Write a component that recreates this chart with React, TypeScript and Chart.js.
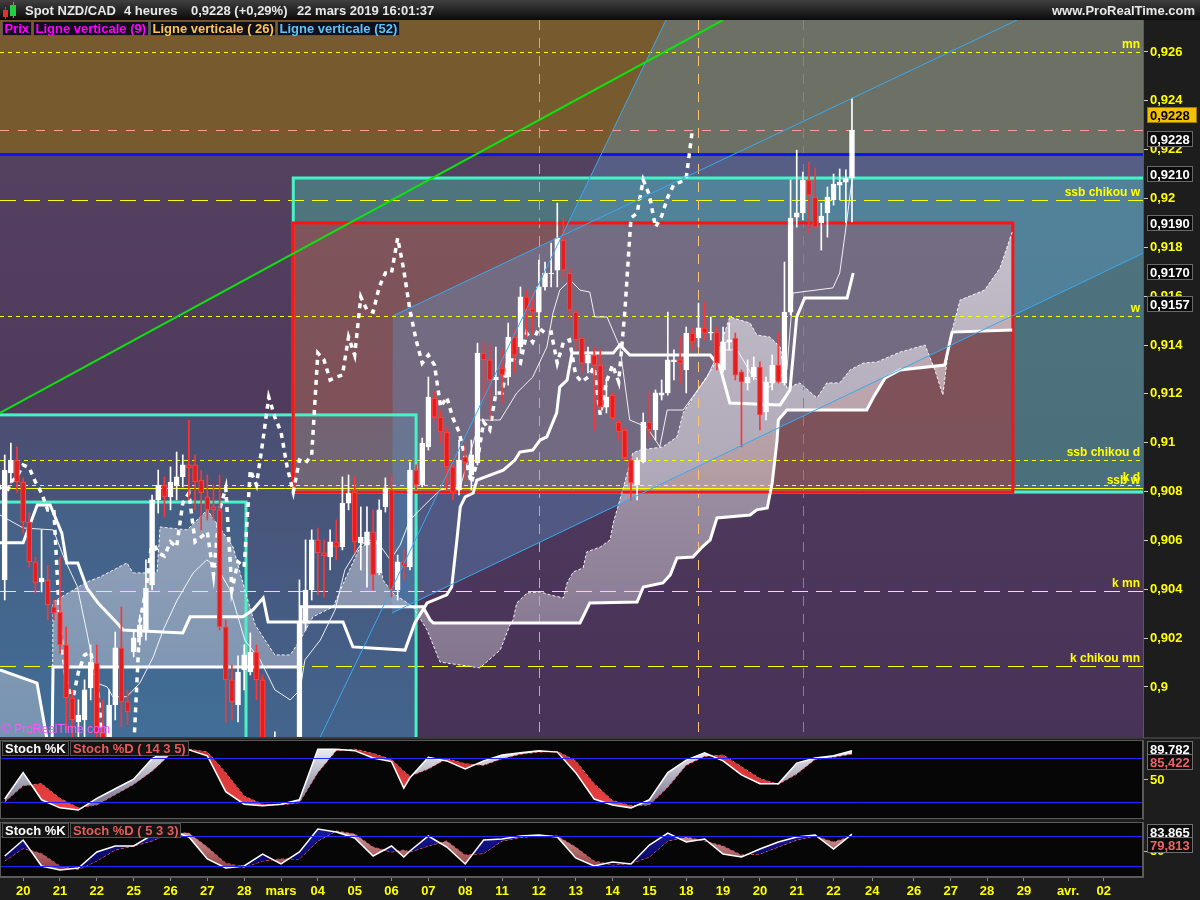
import React, { useEffect, useRef } from 'react';
import { Chart, registerables } from 'chart.js';

Chart.register(...registerables);

// ---------------- DATA ----------------
const candleOpen = [
  0.90438, 0.90876, 0.90929, 0.90839, 0.90675, 0.90512, 0.90430, 0.90438, 0.90328, 0.90307,
  0.90172, 0.89955, 0.89857, 0.89865, 0.89996, 0.90098, 0.89812, 0.89783, 0.89926, 0.90160,
  0.89939, 0.90143, 0.90205, 0.90233, 0.90418, 0.90766, 0.90827, 0.90778, 0.90823, 0.90860,
  0.90909, 0.90909, 0.90847, 0.90778, 0.90737, 0.90725, 0.90246, 0.90029, 0.89926, 0.90070,
  0.90061, 0.90143, 0.90029, 0.89763, 0.89681, 0.89783, 0.89722, 0.89660, 0.89742, 0.90262,
  0.90397, 0.90602, 0.90549, 0.90532, 0.90594, 0.90573, 0.90753, 0.90798, 0.90590, 0.90581,
  0.90635, 0.90467, 0.90737, 0.90807, 0.90397, 0.90512, 0.90491, 0.90888, 0.90827, 0.90983,
  0.91183, 0.91105, 0.91044, 0.90901, 0.90807, 0.90942, 0.90868, 0.90917, 0.91367, 0.91339,
  0.91257, 0.91306, 0.91269, 0.91433, 0.91392, 0.91597, 0.91548, 0.91535, 0.91638, 0.91691,
  0.91707, 0.91830, 0.91695, 0.91535, 0.91429, 0.91326, 0.91359, 0.91318, 0.91146, 0.91195,
  0.91085, 0.91052, 0.90929, 0.90827, 0.90921, 0.91085, 0.91052, 0.91195, 0.91204, 0.91331,
  0.91339, 0.91298, 0.91449, 0.91429, 0.91470, 0.91449, 0.91453, 0.91298, 0.91412, 0.91429,
  0.91290, 0.91245, 0.91269, 0.91310, 0.91126, 0.91245, 0.91318, 0.91245, 0.91535, 0.91924,
  0.91941, 0.92076, 0.92006, 0.91900, 0.91941, 0.91994, 0.92055, 0.92067, 0.92084,
];
const candleHigh = [
  0.90950, 0.90999, 0.90983, 0.90856, 0.90712, 0.90532, 0.90643, 0.90499, 0.90356, 0.90532,
  0.90246, 0.89988, 0.89947, 0.90029, 0.90172, 0.90172, 0.89947, 0.89988, 0.90225, 0.90328,
  0.89988, 0.90233, 0.90295, 0.90520, 0.90786, 0.90888, 0.90860, 0.90901, 0.90962, 0.90950,
  0.91093, 0.90950, 0.90888, 0.90868, 0.90827, 0.90868, 0.90274, 0.90090, 0.90127, 0.90172,
  0.90221, 0.90172, 0.90049, 0.89783, 0.89816, 0.89791, 0.89742, 0.89763, 0.90438, 0.90602,
  0.90643, 0.90651, 0.90602, 0.90643, 0.90684, 0.90860, 0.90868, 0.90860, 0.90737, 0.90737,
  0.90725, 0.90766, 0.90856, 0.90868, 0.90540, 0.90561, 0.90921, 0.90909, 0.91019, 0.91269,
  0.91208, 0.91134, 0.91064, 0.90929, 0.91011, 0.90991, 0.91011, 0.91408, 0.91412, 0.91400,
  0.91392, 0.91380, 0.91490, 0.91462, 0.91638, 0.91625, 0.91613, 0.91748, 0.91740, 0.91818,
  0.91981, 0.91920, 0.91715, 0.91543, 0.91433, 0.91392, 0.91392, 0.91380, 0.91257, 0.91204,
  0.91093, 0.91060, 0.90942, 0.90938, 0.91122, 0.91208, 0.91216, 0.91257, 0.91535, 0.91380,
  0.91433, 0.91474, 0.91470, 0.91572, 0.91576, 0.91515, 0.91474, 0.91474, 0.91490, 0.91449,
  0.91298, 0.91339, 0.91351, 0.91331, 0.91269, 0.91359, 0.91449, 0.91740, 0.92076, 0.92198,
  0.92108, 0.92149, 0.92125, 0.91981, 0.92047, 0.92100, 0.92121, 0.92117, 0.92411,
];
const candleLow = [
  0.90356, 0.90835, 0.90798, 0.90630, 0.90491, 0.90385, 0.90389, 0.90274, 0.90274, 0.90139,
  0.89824, 0.89795, 0.89795, 0.89795, 0.89947, 0.89763, 0.89742, 0.89742, 0.89865, 0.89836,
  0.89844, 0.90123, 0.90172, 0.90192, 0.90397, 0.90712, 0.90696, 0.90725, 0.90766, 0.90819,
  0.90766, 0.90725, 0.90643, 0.90684, 0.90684, 0.90233, 0.89853, 0.89865, 0.89857, 0.89988,
  0.90049, 0.89947, 0.89701, 0.89640, 0.89660, 0.89681, 0.89619, 0.89640, 0.89722, 0.90233,
  0.90356, 0.90377, 0.90368, 0.90479, 0.90520, 0.90561, 0.90725, 0.90549, 0.90479, 0.90409,
  0.90397, 0.90459, 0.90716, 0.90368, 0.90356, 0.90438, 0.90479, 0.90807, 0.90819, 0.90970,
  0.91093, 0.90999, 0.90807, 0.90766, 0.90786, 0.90847, 0.90807, 0.90909, 0.91175, 0.91093,
  0.91195, 0.91163, 0.91236, 0.91286, 0.91367, 0.91433, 0.91449, 0.91474, 0.91625, 0.91638,
  0.91638, 0.91674, 0.91502, 0.91380, 0.91286, 0.91286, 0.91052, 0.91134, 0.91122, 0.91093,
  0.91011, 0.90929, 0.90766, 0.90766, 0.90917, 0.91011, 0.91011, 0.91175, 0.91195, 0.91257,
  0.91245, 0.91204, 0.91380, 0.91392, 0.91421, 0.91421, 0.91298, 0.91290, 0.91380, 0.91257,
  0.90983, 0.91216, 0.91257, 0.91052, 0.91093, 0.91216, 0.91245, 0.91236, 0.91523, 0.91883,
  0.91912, 0.91859, 0.91879, 0.91789, 0.91842, 0.91973, 0.91994, 0.91900, 0.91904,
];
const candleClose = [
  0.90888, 0.90929, 0.90839, 0.90675, 0.90512, 0.90426, 0.90446, 0.90336, 0.90303, 0.90172,
  0.89955, 0.89865, 0.89885, 0.89988, 0.90102, 0.89812, 0.89783, 0.89926, 0.90160, 0.89939,
  0.89898, 0.90201, 0.90254, 0.90405, 0.90766, 0.90827, 0.90778, 0.90839, 0.90860, 0.90909,
  0.90897, 0.90839, 0.90794, 0.90725, 0.90725, 0.90246, 0.90029, 0.89939, 0.90061, 0.90131,
  0.90143, 0.90029, 0.89763, 0.89681, 0.89783, 0.89722, 0.89660, 0.89742, 0.90266, 0.90397,
  0.90602, 0.90549, 0.90536, 0.90594, 0.90573, 0.90753, 0.90794, 0.90594, 0.90614, 0.90635,
  0.90459, 0.90725, 0.90815, 0.90397, 0.90512, 0.90491, 0.90888, 0.90827, 0.90999, 0.91187,
  0.91105, 0.91044, 0.90901, 0.90798, 0.90929, 0.90917, 0.90950, 0.91367, 0.91339, 0.91257,
  0.91269, 0.91277, 0.91433, 0.91359, 0.91597, 0.91543, 0.91535, 0.91638, 0.91695, 0.91695,
  0.91838, 0.91707, 0.91543, 0.91421, 0.91326, 0.91359, 0.91318, 0.91146, 0.91187, 0.91101,
  0.91044, 0.90938, 0.90835, 0.90929, 0.91085, 0.91052, 0.91204, 0.91204, 0.91339, 0.91339,
  0.91326, 0.91449, 0.91412, 0.91470, 0.91449, 0.91453, 0.91326, 0.91412, 0.91421, 0.91277,
  0.91249, 0.91269, 0.91310, 0.91114, 0.91249, 0.91318, 0.91249, 0.91535, 0.91920, 0.91941,
  0.92076, 0.92014, 0.91883, 0.91928, 0.92006, 0.92059, 0.92067, 0.92084, 0.92280,
];

// Ichimoku lines: [bar index, price]
const tenkanPts = [
  [-0.77, 0.90704], [3.0, 0.90651], [7.9, 0.90643], [9.8, 0.9052], [11.8, 0.90413], [13.4, 0.90221],
  [15.0, 0.90016], [16.7, 0.9], [17.6, 0.8996], [19.9, 0.8996], [22.0, 0.90016], [24.2, 0.90123],
  [25.8, 0.90233], [28.1, 0.90356], [30.7, 0.90467], [32.9, 0.9052], [34.6, 0.90491], [36.7, 0.90397],
  [39.1, 0.90192], [41.6, 0.90111], [44.0, 0.89988], [46.5, 0.89947], [48.1, 0.89988], [48.9, 0.90111],
  [51.4, 0.90192], [53.8, 0.90315], [55.4, 0.90479], [57.9, 0.90581], [59.5, 0.90602], [61.1, 0.90581],
  [62.8, 0.9052], [64.4, 0.90581], [66.0, 0.90684], [67.6, 0.90725], [70.9, 0.90807], [74.2, 0.90819],
  [77.4, 0.91093], [80.7, 0.91093], [83.4, 0.91204], [86.0, 0.91269], [88.3, 0.91392], [89.3, 0.91531],
  [90.4, 0.91625], [92.1, 0.91666], [93.7, 0.91625], [95.3, 0.91617], [96.1, 0.91515], [98.1, 0.91515],
  [100.2, 0.91392], [101.8, 0.91093], [104.6, 0.91064], [106.7, 0.90983], [107.9, 0.91134], [110.5, 0.91134],
  [114.4, 0.91269], [116.5, 0.9138], [119.3, 0.9138], [121.9, 0.91269], [124.6, 0.91228], [127.4, 0.91298],
  [128.4, 0.91613], [134.9, 0.91634], [136.0, 0.91695], [136.9, 0.91859], [138.0, 0.92076],
];
const kijunPts = [
  [-0.77, 0.9059], [3.0, 0.9059], [5.3, 0.90745], [7.4, 0.90745], [9.3, 0.9063], [10.1, 0.90508],
  [11.9, 0.90508], [13.4, 0.90405], [15.2, 0.90344], [18.3, 0.90262], [19.3, 0.90233], [29.0, 0.90221],
  [30.2, 0.90287], [38.8, 0.90287], [40.4, 0.90315], [42.1, 0.90364], [42.9, 0.90266], [55.1, 0.90266],
  [56.7, 0.90164], [65.2, 0.90151], [66.8, 0.90262], [68.8, 0.90344], [72.0, 0.90377], [72.8, 0.90409],
  [73.7, 0.90614], [74.2, 0.90737], [75.0, 0.90778], [76.3, 0.90794], [76.9, 0.90847], [81.2, 0.90888],
  [83.1, 0.90929], [83.9, 0.90962], [86.0, 0.9097], [87.2, 0.91011], [88.3, 0.91024], [89.9, 0.91122],
  [90.4, 0.91228], [91.6, 0.91257], [92.4, 0.91367], [99.1, 0.91367], [100.2, 0.914], [101.8, 0.91359],
  [114.9, 0.91359], [116.5, 0.9131], [118.1, 0.91163], [126.3, 0.91155], [127.9, 0.91216], [129.0, 0.91515],
  [130.3, 0.91593], [137.2, 0.91593], [138.2, 0.91695],
];
const ssaPts = [
  [-0.77, 0.89701], [7.7, 0.89701], [7.87, 0.90348], [13.4, 0.9043], [15.5, 0.9045], [19.9, 0.90508],
  [20.9, 0.90467], [24.8, 0.90467], [25.3, 0.90655], [29.7, 0.90643], [33.0, 0.90725], [37.2, 0.90573],
  [39.1, 0.90397], [40.8, 0.90254], [42.4, 0.90192], [44.0, 0.90131], [46.5, 0.90131], [48.1, 0.90192],
  [50.2, 0.90287], [53.5, 0.90328], [55.4, 0.90438], [57.9, 0.90573], [60.6, 0.90602], [61.6, 0.90438],
  [63.2, 0.90385], [66.5, 0.90328], [68.8, 0.90233], [70.9, 0.90102], [77.4, 0.90078], [80.7, 0.90151],
  [82.3, 0.90254], [82.8, 0.90274], [83.4, 0.90344], [85.1, 0.90385], [87.2, 0.90389], [88.8, 0.90377],
  [91.0, 0.90364], [91.6, 0.90426], [92.6, 0.90471], [94.2, 0.90487], [94.8, 0.90553], [97.0, 0.90573],
  [98.6, 0.90602], [99.1, 0.90671], [100.2, 0.90766], [101.4, 0.90876], [102.3, 0.90958], [103.5, 0.9097],
  [107.2, 0.90983], [109.5, 0.91024], [110.5, 0.91122], [113.2, 0.91228], [115.4, 0.9131], [118.1, 0.91515],
  [121.4, 0.9149], [122.5, 0.91441], [124.6, 0.91433], [126.3, 0.91392], [127.4, 0.91224], [129.5, 0.91245],
  [132.3, 0.91183], [133.9, 0.91245], [136.0, 0.91245], [137.7, 0.91298], [139.8, 0.91326], [142.1, 0.91331],
  [145.8, 0.91371], [149.9, 0.914], [151.5, 0.91298], [152.8, 0.91195], [153.9, 0.91421], [155.6, 0.91584],
  [159.6, 0.91625], [162.1, 0.91715], [164.1, 0.91863],
];
const ssbPts = [
  [-0.77, 0.9007], [5.26, 0.90016], [7.05, 0.89763], [7.7, 0.89742], [7.87, 0.90082], [48.1, 0.90082],
  [48.2, 0.90328], [68.1, 0.90328], [69.3, 0.90274], [69.8, 0.90262], [93.7, 0.90262], [95.3, 0.90344],
  [103.0, 0.90348], [104.0, 0.90409], [107.2, 0.90426], [108.4, 0.90459], [109.5, 0.90528], [112.1, 0.90532],
  [113.6, 0.90573], [114.9, 0.90602], [116.0, 0.90692], [121.4, 0.90704], [122.5, 0.90725], [124.2, 0.90733],
  [125.0, 0.90835], [125.8, 0.91011], [126.0, 0.91093], [127.4, 0.91134], [140.4, 0.91134], [141.7, 0.91195],
  [143.4, 0.91265], [145.8, 0.91298], [153.1, 0.91318], [154.3, 0.91453], [164.1, 0.91462],
];
const chikouShift = 26;

// drawn objects: [bar, price] end points
const greenLine = [[-0.77, 0.91122], [117, 0.92731]];
const steepLine = [[51.4, 0.89795], [107.7, 0.92731]];
const upperChannel = [[63.2, 0.91519], [164.9, 0.92731]];
const lowerChannel = [[63.1, 0.90303], [185.4, 0.91776]];

const blueLevel = 0.9218;
const levelPrices = [0.926, 0.91994, 0.91519, 0.90929, 0.90827, 0.90815, 0.90393, 0.90086];
const levelLabels = ['mn', 'ssb chikou w', 'w', 'ssb chikou d', 'k d', 'ssb w', 'k mn', 'k chikou mn'];
const verticalLineBars = [9, 26, 52];

// zones: [from bar, to bar, top price, bottom price]
const zoneCyanW = [47, 190, 0.92084, 0.90798];
const zoneRed = [47, 164.2, 0.919, 0.90798];
const zoneCyanD = [-2, 67, 0.91114, 0.895];
const zoneCyanH = [-2, 39.3, 0.90757, 0.895];

const priceTicks = [0.9, 0.902, 0.904, 0.906, 0.908, 0.91, 0.912, 0.914, 0.916, 0.918, 0.92, 0.922, 0.924, 0.926];
const axisMarks = [0.9228, 0.921, 0.919, 0.917, 0.9157];

const dayTickPos = [3, 9, 15, 21, 27, 33, 39, 45, 51, 57, 63, 69, 75, 81, 87, 93, 99, 105, 111, 117, 123, 129, 135, 141.3, 148.1, 154.1, 160, 166, 173.2, 179];
const dayTickLabels = ['20', '21', '22', '25', '26', '27', '28', 'mars', '04', '05', '06', '07', '08', '11', '12', '13', '14', '15', '18', '19', '20', '21', '22', '24', '26', '27', '28', '29', 'avr.', '02'];

const stochX = [0, 3, 6, 9, 12, 15, 18, 21, 24, 27, 30, 33, 36, 39, 42, 45, 48, 51, 54, 57, 60, 63, 65, 66, 69, 72, 75, 78, 81, 84, 87, 90, 93, 96, 99, 102, 105, 108, 111, 114, 117, 120, 123, 126, 129, 132, 135, 138];
const stoch1K = [24, 60, 23, 12, 9, 25, 38, 51, 79, 92, 91, 83, 34, 17, 15, 17, 23, 92, 92, 90, 80, 75, 39, 53, 81, 76, 65, 76, 84, 87, 90, 88, 60, 24, 16, 12, 23, 60, 77, 87, 76, 57, 45, 45, 73, 80, 83, 89.782];
const stoch1D = [20, 42, 45, 25, 12, 16, 30, 44, 62, 85, 92, 88, 60, 28, 17, 16, 19, 60, 90, 92, 86, 78, 62, 55, 65, 79, 72, 70, 79, 85, 88, 89, 76, 45, 22, 15, 16, 40, 70, 82, 84, 68, 52, 44, 58, 78, 81, 85.422];
const stoch2K = [40, 72, 20, 12, 16, 48, 60, 60, 82, 90, 78, 34, 16, 20, 44, 24, 48, 94, 88, 76, 40, 60, 38, 50, 80, 58, 24, 72, 74, 80, 82, 78, 36, 20, 28, 24, 62, 86, 68, 74, 44, 38, 54, 68, 78, 82, 54, 83.865];
const stoch2D = [30, 55, 45, 20, 13, 30, 52, 60, 70, 86, 86, 58, 26, 17, 30, 34, 34, 70, 90, 84, 58, 48, 52, 48, 60, 70, 42, 45, 70, 77, 80, 80, 58, 30, 22, 25, 38, 70, 78, 70, 60, 42, 44, 58, 72, 80, 68, 79.813];
const stochLevels = [80, 20];

// ---------------- LAYOUT / STYLE ----------------
const FONT = '"Liberation Sans", Arial, sans-serif';
const W = 1200;
const MAIN_H = 739;
const P1_H = 82;
const P2_H = 79;
const AXIS_W = 57;
const X_MIN = -0.77;
const X_MAX = 185.4;
const Y_MIN = 0.89795;
const Y_MAX = 0.92731;

const levelDash: Record<string, number[]> = {
  'mn': [4, 4], 'ssb chikou w': [16, 8], 'w': [4, 4], 'ssb chikou d': [4, 4],
  'k d': [4, 4], 'ssb w': [], 'k mn': [16, 8], 'k chikou mn': [16, 8],
};

const fmtTick = (v: number) => String(+v.toFixed(3)).replace('.', ',');
const fmt4 = (v: number) => v.toFixed(4).replace('.', ',');
const fmt3 = (v: number) => v.toFixed(3).replace('.', ',');

const fitY = (s: any) => { s.width = AXIS_W; s.paddingTop = 0; s.paddingBottom = 0; };
const fitX = (s: any) => { s.height = 23; s.paddingLeft = 0; s.paddingRight = 0; };

function valueBox(ctx: any, text: string, cy: number, bg: string, fg: string, border: string, w = 46) {
  const x0 = 1147;
  ctx.fillStyle = bg;
  ctx.fillRect(x0, Math.round(cy - 8), w, 16);
  ctx.strokeStyle = border;
  ctx.lineWidth = 1;
  ctx.setLineDash([]);
  ctx.strokeRect(x0 + 0.5, Math.round(cy - 8) + 0.5, w - 1, 15);
  ctx.fillStyle = fg;
  ctx.font = `bold 13px ${FONT}`;
  ctx.textAlign = 'left';
  ctx.textBaseline = 'middle';
  ctx.fillText(text, x0 + 3, Math.round(cy) + 1);
}

function intersect(p1: number[], p2: number[], p3: number[], p4: number[]) {
  const d = (p1[0] - p2[0]) * (p3[1] - p4[1]) - (p1[1] - p2[1]) * (p3[0] - p4[0]);
  const t = ((p1[0] - p3[0]) * (p3[1] - p4[1]) - (p1[1] - p3[1]) * (p3[0] - p4[0])) / d;
  return [p1[0] + t * (p2[0] - p1[0]), p1[1] + t * (p2[1] - p1[1])];
}

const mainPlugin = {
  id: 'mainDecor',
  beforeDraw(chart: any) {
    const { ctx, chartArea: ca } = chart;
    const xs = chart.scales.x;
    const ys = chart.scales.y;
    const X = (b: number) => xs.getPixelForValue(b);
    const Y = (p: number) => ys.getPixelForValue(p);
    const P = (pt: number[]) => [X(pt[0]), Y(pt[1])];
    ctx.save();
    ctx.fillStyle = '#1d1d1d';
    ctx.fillRect(0, 0, chart.width, chart.height);
    ctx.fillStyle = '#3a3a3a';
    ctx.fillRect(0, ca.bottom, chart.width, chart.height - ca.bottom);

    // header bar
    const hg = ctx.createLinearGradient(0, 0, 0, 20);
    hg.addColorStop(0, '#404040');
    hg.addColorStop(1, '#0a0a0a');
    ctx.fillStyle = hg;
    ctx.fillRect(0, 0, chart.width, 20);
    ctx.fillStyle = '#e03030';
    ctx.fillRect(5, 7, 1, 12);
    ctx.fillRect(3, 10, 5, 7);
    ctx.fillStyle = '#20d040';
    ctx.fillRect(13, 2, 1, 16);
    ctx.fillRect(10, 5, 6, 11);
    ctx.font = `bold 13px ${FONT}`;
    ctx.fillStyle = '#e8e8e8';
    ctx.textBaseline = 'middle';
    ctx.textAlign = 'left';
    ctx.fillText('Spot NZD/CAD', 25, 11);
    ctx.fillText('4 heures', 124, 11);
    ctx.fillText('0,9228 (+0,29%)', 191, 11);
    ctx.fillText('22 mars 2019 16:01:37', 297, 11);
    ctx.textAlign = 'right';
    ctx.fillText('www.ProRealTime.com', 1195, 11);

    // plot area
    ctx.save();
    ctx.beginPath();
    ctx.rect(ca.left, ca.top, ca.right - ca.left, ca.bottom - ca.top);
    ctx.clip();
    const yb = Y(blueLevel);
    ctx.fillStyle = '#775a2e';
    ctx.fillRect(ca.left, ca.top, ca.right - ca.left, yb - ca.top);
    const pg = ctx.createLinearGradient(0, yb, 0, ca.bottom);
    pg.addColorStop(0, '#54405f');
    pg.addColorStop(1, '#483358');
    ctx.fillStyle = pg;
    ctx.fillRect(ca.left, yb, ca.right - ca.left, ca.bottom - yb);

    const rect = (z: number[]) => [X(z[0]), Y(z[2]), X(z[1]) - X(z[0]), Y(z[3]) - Y(z[2])];
    let r = rect(zoneCyanW);
    ctx.fillStyle = 'rgba(70,225,190,0.33)';
    ctx.fillRect(r[0], r[1], r[2], r[3]);
    r = rect(zoneRed);
    ctx.fillStyle = 'rgba(230,20,20,0.33)';
    ctx.fillRect(r[0], r[1], r[2], r[3]);
    r = rect(zoneCyanD);
    const dg = ctx.createLinearGradient(0, r[1], 0, ca.bottom);
    dg.addColorStop(0, 'rgba(60,170,215,0.18)');
    dg.addColorStop(1, 'rgba(60,170,215,0.42)');
    ctx.fillStyle = dg;
    ctx.fillRect(r[0], r[1], r[2], r[3]);
    r = rect(zoneCyanH);
    ctx.fillStyle = 'rgba(60,170,215,0.14)';
    ctx.fillRect(r[0], r[1], r[2], r[3]);

    // channel tint
    const ls = P(lowerChannel[0]);
    const le = P(lowerChannel[1]);
    const us = P(upperChannel[0]);
    const ue = P(upperChannel[1]);
    const ss = P(steepLine[0]);
    const se = P(steepLine[1]);
    const ip = intersect(us, ue, ss, se);
    ctx.beginPath();
    ctx.moveTo(ls[0], ls[1]);
    ctx.lineTo(us[0], us[1]);
    ctx.lineTo(ip[0], ip[1]);
    ctx.lineTo(se[0], se[1]);
    ctx.lineTo(ca.right + 5, ca.top - 5);
    ctx.lineTo(ca.right + 5, le[1]);
    ctx.lineTo(le[0], le[1]);
    ctx.closePath();
    ctx.fillStyle = 'rgba(90,160,215,0.32)';
    ctx.fill();

    // cloud
    ctx.beginPath();
    ssaPts.forEach((pt, i) => {
      const q = P(pt);
      if (i === 0) ctx.moveTo(q[0], q[1]);
      else ctx.lineTo(q[0], q[1]);
    });
    for (let i = ssbPts.length - 1; i >= 0; i--) {
      const q = P(ssbPts[i]);
      ctx.lineTo(q[0], q[1]);
    }
    ctx.closePath();
    const cg = ctx.createLinearGradient(0, Y(0.919), 0, ca.bottom);
    cg.addColorStop(0, 'rgba(240,236,242,0.66)');
    cg.addColorStop(1, 'rgba(240,236,242,0.30)');
    ctx.fillStyle = cg;
    ctx.fill();

    // horizontal levels
    ctx.lineWidth = 1;
    ctx.strokeStyle = '#ffff00';
    levelPrices.forEach((p, i) => {
      const py = Math.round(Y(p)) + 0.5;
      ctx.setLineDash(levelDash[levelLabels[i]] || []);
      ctx.beginPath();
      ctx.moveTo(ca.left, py);
      ctx.lineTo(ca.right, py);
      ctx.stroke();
    });
    // current price line
    const lastClose = candleClose[candleClose.length - 1];
    ctx.strokeStyle = '#ff9c9c';
    ctx.setLineDash([9, 9]);
    ctx.beginPath();
    ctx.moveTo(ca.left, Math.round(Y(lastClose)) + 0.5);
    ctx.lineTo(ca.right, Math.round(Y(lastClose)) + 0.5);
    ctx.stroke();

    // vertical lines
    const vColors = ['#ff30ff', '#ffc470', '#66c8ff'];
    verticalLineBars.forEach((n, i) => {
      const px = Math.round(X(candleClose.length - n)) + 0.5;
      ctx.strokeStyle = vColors[i];
      ctx.setLineDash([10, 8]);
      ctx.beginPath();
      ctx.moveTo(px, ca.top);
      ctx.lineTo(px, ca.bottom);
      ctx.stroke();
    });
    ctx.setLineDash([]);

    // zone outlines
    ctx.lineWidth = 3;
    const outline = (z: number[], col: string) => {
      const q = rect(z);
      ctx.strokeStyle = col;
      ctx.strokeRect(q[0], q[1], q[2], q[3]);
    };
    outline(zoneCyanH, '#46f2c6');
    outline(zoneCyanD, '#46f2c6');
    outline(zoneCyanW, '#46f2c6');
    outline(zoneRed, '#ff1212');

    // blue horizontal line
    ctx.strokeStyle = '#0a14ff';
    ctx.lineWidth = 3;
    ctx.beginPath();
    ctx.moveTo(ca.left, yb);
    ctx.lineTo(ca.right, yb);
    ctx.stroke();
    ctx.restore();
    ctx.restore();
  },
  afterDraw(chart: any) {
    const { ctx, chartArea: ca } = chart;
    const ys = chart.scales.y;
    ctx.save();
    // level labels
    ctx.font = `bold 12px ${FONT}`;
    ctx.fillStyle = '#ffff00';
    ctx.textAlign = 'right';
    ctx.textBaseline = 'bottom';
    levelPrices.forEach((p, i) => {
      ctx.fillText(levelLabels[i], ca.right - 3, Math.round(ys.getPixelForValue(p)) - 1);
    });
    // legend row
    const items = [
      ['Prix', '#ff00ff'],
      ['Ligne verticale (9)', '#ff00ff'],
      ['Ligne verticale ( 26)', '#ffc458'],
      ['Ligne verticale (52)', '#5cc4ff'],
    ];
    ctx.font = `bold 13px ${FONT}`;
    ctx.textAlign = 'left';
    ctx.textBaseline = 'middle';
    let lx = 2;
    items.forEach(([t, c]) => {
      const w = Math.round(ctx.measureText(t).width) + 5;
      ctx.fillStyle = '#10101a';
      ctx.fillRect(lx, 21, w, 15);
      ctx.strokeStyle = '#555555';
      ctx.lineWidth = 1;
      ctx.strokeRect(lx + 0.5, 21.5, w - 1, 14);
      ctx.fillStyle = c;
      ctx.fillText(t, lx + 2.5, 29);
      lx += w + 1;
    });
    // watermark
    ctx.font = `12px ${FONT}`;
    ctx.fillStyle = '#ff55ff';
    ctx.textBaseline = 'bottom';
    ctx.fillText('\u00a9 ProRealTime.com', 2, ca.bottom - 1);
    // axis value boxes
    const lastClose = candleClose[candleClose.length - 1];
    axisMarks.forEach((v, i) => {
      const cy = ys.getPixelForValue(v) + (i === 0 ? 9 : 0);
      valueBox(ctx, fmt4(v), cy, '#0b0b0b', '#ffffff', '#6a6a6a');
    });
    valueBox(ctx, fmt4(lastClose), ys.getPixelForValue(lastClose) - 15, '#f2c200', '#000000', '#a07800', 50);
    ctx.restore();
  },
};

function makeStochPlugin(params: string, lastK: number, lastD: number, kOff: number, dOff: number) {
  return {
    id: 'stoch' + params.replace(/\W/g, ''),
    beforeDraw(chart: any) {
      const { ctx, chartArea: ca } = chart;
      ctx.save();
      ctx.fillStyle = '#1d1d1d';
      ctx.fillRect(0, 0, chart.width, chart.height);
      ctx.fillStyle = '#060606';
      ctx.fillRect(ca.left, ca.top, ca.right - ca.left, ca.bottom - ca.top);
      ctx.restore();
    },
    afterDatasetsDraw(chart: any) {
      const { ctx, chartArea: ca } = chart;
      const ys = chart.scales.y;
      ctx.save();
      ctx.strokeStyle = '#2626ff';
      ctx.lineWidth = 1;
      stochLevels.forEach((v) => {
        const py = Math.round(ys.getPixelForValue(v)) + 0.5;
        ctx.beginPath();
        ctx.moveTo(ca.left, py);
        ctx.lineTo(ca.right, py);
        ctx.stroke();
      });
      ctx.strokeStyle = '#5a5a5a';
      ctx.strokeRect(ca.left + 0.5, ca.top + 0.5, ca.right - ca.left - 1, ca.bottom - ca.top - 1);
      // legend tags
      ctx.font = `bold 13px ${FONT}`;
      ctx.textAlign = 'left';
      ctx.textBaseline = 'middle';
      const tags = [['Stoch %K', '#ffffff'], ['Stoch %D ' + params, '#e85a5a']];
      let lx = 2;
      tags.forEach(([t, c]) => {
        const w = Math.round(ctx.measureText(t).width) + 6;
        ctx.fillStyle = '#141414';
        ctx.fillRect(lx, ca.top + 1, w, 15);
        ctx.strokeStyle = '#505050';
        ctx.strokeRect(lx + 0.5, ca.top + 1.5, w - 1, 14);
        ctx.fillStyle = c;
        ctx.fillText(t, lx + 3, ca.top + 9);
        lx += w + 1;
      });
      const ky = ys.getPixelForValue(lastK);
      valueBox(ctx, fmt3(lastK), ky + kOff, '#0c0c0c', '#ffffff', '#707070');
      valueBox(ctx, fmt3(lastD), ky + dOff, '#0c0c0c', '#ee6464', '#707070');
      ctx.restore();
    },
  };
}

function stochYScale(min: number, max: number) {
  return {
    type: 'linear',
    position: 'right',
    min,
    max,
    afterFit: fitY,
    afterBuildTicks: (s: any) => { s.ticks = [{ value: 50 }]; },
    ticks: { color: '#ffff00', font: { family: FONT, size: 13, weight: 'bold' }, padding: 2, callback: () => '50' },
    grid: { drawOnChartArea: false, drawTicks: true, tickLength: 5, color: '#bbbbbb' },
    border: { display: true, color: '#5a5a5a' },
  };
}

export default function App() {
  const mainRef = useRef<HTMLCanvasElement>(null);
  const p1Ref = useRef<HTMLCanvasElement>(null);
  const p2Ref = useRef<HTMLCanvasElement>(null);

  useEffect(() => {
    const charts: any[] = [];
    const idx = candleOpen.map((_, i) => i);
    const up = candleClose.map((c, i) => c >= candleOpen[i]);
    const pts = (arr: number[][]) => arr.map(([x, y]) => ({ x, y }));

    const common = {
      animation: false,
      responsive: false,
      maintainAspectRatio: false,
      devicePixelRatio: 1,
      events: [],
    };

    if (mainRef.current) {
      charts.push(new Chart(mainRef.current, {
        type: 'bar',
        data: {
          datasets: [
            { type: 'line', data: pts(ssaPts), borderColor: 'rgba(255,255,255,0.9)', borderWidth: 1, borderDash: [3, 2], pointRadius: 0, order: 20 },
            { type: 'line', data: pts(ssbPts), borderColor: '#ffffff', borderWidth: 3, pointRadius: 0, order: 19 },
            { type: 'line', data: pts(tenkanPts), borderColor: 'rgba(255,255,255,0.9)', borderWidth: 1, pointRadius: 0, order: 18 },
            { type: 'line', data: pts(kijunPts), borderColor: '#ffffff', borderWidth: 3, pointRadius: 0, order: 17 },
            { type: 'line', data: candleClose.map((c, i) => ({ x: i - chikouShift, y: c })), borderColor: '#ffffff', borderWidth: 3.5, borderDash: [5, 5], pointRadius: 0, order: 16 },
            { type: 'bar', data: idx.map((i) => ({ x: i, y: [candleLow[i], candleHigh[i]] })), backgroundColor: up.map((u) => (u ? '#ffffff' : '#ff3434')), borderWidth: 0, barThickness: 1, grouped: false, order: 15 },
            { type: 'bar', data: idx.map((i) => ({ x: i, y: [candleOpen[i], candleClose[i]] })), backgroundColor: up.map((u) => (u ? '#ffffff' : '#e41e1e')), borderColor: up.map((u) => (u ? '#ffffff' : '#ff4a4a')), borderWidth: 1, borderSkipped: false, barThickness: 5, minBarLength: 1, grouped: false, order: 14 },
            { type: 'line', data: pts(steepLine), borderColor: '#3aa8f0', borderWidth: 1, pointRadius: 0, order: 13 },
            { type: 'line', data: pts(upperChannel), borderColor: '#3aa8f0', borderWidth: 1, pointRadius: 0, order: 12 },
            { type: 'line', data: pts(lowerChannel), borderColor: '#3aa8f0', borderWidth: 1, pointRadius: 0, order: 11 },
            { type: 'line', data: pts(greenLine), borderColor: '#10e010', borderWidth: 2, pointRadius: 0, order: 10 },
          ],
        },
        options: {
          ...common,
          layout: { padding: { top: 20, bottom: 2, left: 0, right: 0 }, autoPadding: false },
          scales: {
            x: { type: 'linear', min: X_MIN, max: X_MAX, offset: false, display: false },
            y: {
              type: 'linear', position: 'right', min: Y_MIN, max: Y_MAX,
              afterFit: fitY,
              afterBuildTicks: (s: any) => { s.ticks = priceTicks.map((v) => ({ value: v })); },
              ticks: { color: '#ffff00', font: { family: FONT, size: 13, weight: 'bold' }, padding: 2, callback: (v: any) => fmtTick(Number(v)) },
              grid: { drawOnChartArea: false, drawTicks: true, tickLength: 5, color: '#cccccc' },
              border: { display: true, color: '#5a5a5a' },
            },
          },
          plugins: { legend: { display: false }, tooltip: { enabled: false } },
        },
        plugins: [mainPlugin],
      } as any));
    }

    const stochChart = (canvas: HTMLCanvasElement, K: number[], D: number[], yMin: number, yMax: number, params: string, padTop: number, padBottom: number, showX: boolean, colors: any, kOff: number, dOff: number) => {
      const c2 = canvas.getContext('2d') as CanvasRenderingContext2D;
      const h = canvas.height;
      const gTop = padTop;
      const gBottom = showX ? h - 23 : h - padBottom;
      const ga = c2.createLinearGradient(0, gTop, 0, gBottom);
      ga.addColorStop(0, colors.aboveTop);
      ga.addColorStop(1, colors.aboveBottom);
      const gb = c2.createLinearGradient(0, gTop, 0, gBottom);
      gb.addColorStop(0, colors.belowTop);
      gb.addColorStop(1, colors.belowBottom);
      return new Chart(canvas, {
        type: 'line',
        data: {
          datasets: [
            { data: stochX.map((x, i) => ({ x, y: K[i] })), borderColor: '#ffffff', borderWidth: 1.5, pointRadius: 0, fill: { target: '+1', above: ga, below: gb }, order: 1 },
            { data: stochX.map((x, i) => ({ x, y: D[i] })), borderColor: '#ff5a5a', borderWidth: 1, borderDash: [3, 2], pointRadius: 0, fill: false, order: 2 },
          ],
        },
        options: {
          ...common,
          layout: { padding: { top: padTop, bottom: padBottom, left: 0, right: 0 }, autoPadding: false },
          scales: {
            x: showX ? {
              type: 'linear', min: X_MIN, max: X_MAX, offset: false, position: 'bottom',
              afterFit: fitX,
              afterBuildTicks: (s: any) => { s.ticks = dayTickPos.map((v) => ({ value: v })); },
              ticks: { color: '#ffff00', font: { family: FONT, size: 13, weight: 'bold' }, padding: 3, maxRotation: 0, autoSkip: false, callback: (_v: any, i: number) => dayTickLabels[i] },
              grid: { drawOnChartArea: false, drawTicks: true, tickLength: 4, color: '#8a8a8a' },
              border: { display: true, color: '#5a5a5a' },
            } : { type: 'linear', min: X_MIN, max: X_MAX, offset: false, display: false },
            y: stochYScale(yMin, yMax),
          },
          plugins: { legend: { display: false }, tooltip: { enabled: false } },
        },
        plugins: [makeStochPlugin(params, K[K.length - 1], D[D.length - 1], kOff, dOff)],
      } as any);
    };

    if (p1Ref.current) {
      charts.push(stochChart(p1Ref.current, stoch1K, stoch1D, -3.2, 104.5, '( 14 3 5)', 1, 2, false, {
        aboveTop: '#ffffff', aboveBottom: '#545478', belowTop: '#c83030', belowBottom: '#f04444',
      }, -2, 11));
    }
    if (p2Ref.current) {
      charts.push(stochChart(p2Ref.current, stoch2K, stoch2D, -2, 108, '( 5 3 3)', 1, 0, true, {
        aboveTop: '#1c1ca8', aboveBottom: '#00004a', belowTop: '#dcb4b4', belowBottom: '#8a2828',
      }, -2.5, 11));
    }

    return () => charts.forEach((c) => c.destroy());
  }, []);

  return (
    <div style={{ position: 'fixed', left: 0, top: 0, width: W, height: 900, background: '#1d1d1d', overflow: 'hidden' }}>
      <canvas ref={mainRef} width={W} height={MAIN_H} style={{ position: 'absolute', left: 0, top: 0, width: W, height: MAIN_H }} />
      <canvas ref={p1Ref} width={W} height={P1_H} style={{ position: 'absolute', left: 0, top: MAIN_H, width: W, height: P1_H }} />
      <canvas ref={p2Ref} width={W} height={P2_H} style={{ position: 'absolute', left: 0, top: MAIN_H + P1_H, width: W, height: P2_H }} />
    </div>
  );
}
